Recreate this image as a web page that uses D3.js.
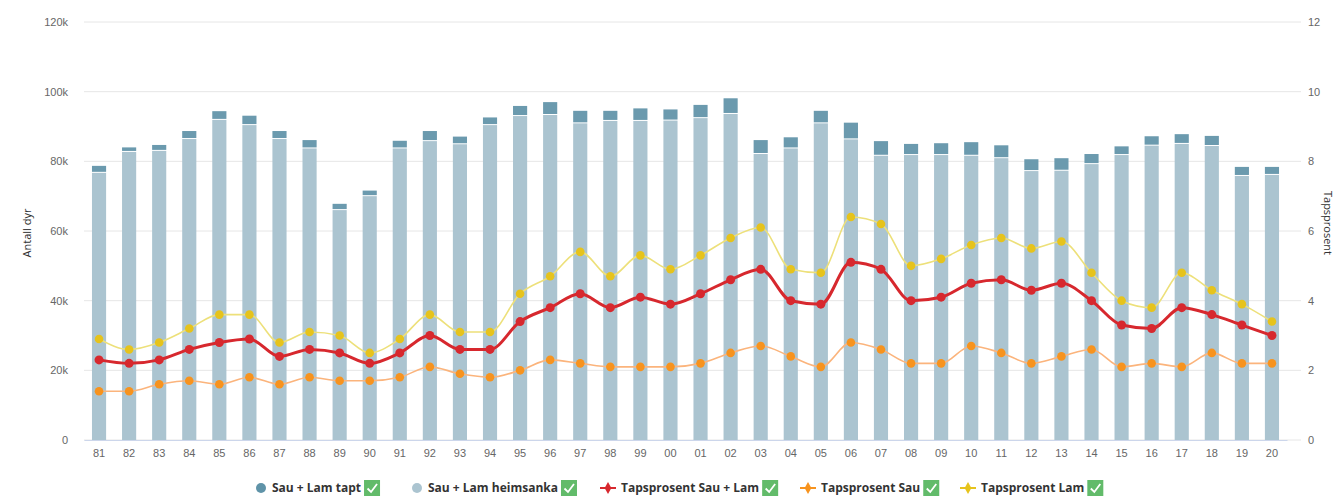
<!DOCTYPE html>
<html>
<head>
<meta charset="utf-8">
<script src="https://cdn.jsdelivr.net/npm/d3@7"></script>
<style>
  body { margin: 0; background: #fff; }
  svg { display: block; font-family: "Open Sans", "DejaVu Sans", sans-serif; }
</style>
</head>
<body>
<div id="chart"></div>
<script>
// --- data ----------------------------------------------------------------
const years = ["81","82","83","84","85","86","87","88","89","90",
               "91","92","93","94","95","96","97","98","99","00",
               "01","02","03","04","05","06","07","08","09","10",
               "11","12","13","14","15","16","17","18","19","20"];

// heimsanka (animals back home) and tapt (lost), in number of animals
const heimsanka = [76700,82700,83000,86400,91900,90400,86400,83700,66000,70000,
                   83700,85800,84900,90400,93000,93300,90900,91600,91600,91700,
                   92400,93600,82100,83700,90900,86300,81600,81800,81800,81600,
                   80900,77200,77300,79200,81800,84500,85000,84400,75800,76100];
const tapt      = [2000,1300,1700,2300,2500,2700,2300,2400,1800,1600,
                   2200,2900,2200,2200,2900,3700,3600,2900,3600,3200,
                   3800,4500,4000,3200,3600,4800,4200,3200,3400,3900,
                   3700,3400,3600,2900,2500,2700,2800,2900,2600,2300];

// percentages
const pctTotal = [2.3,2.2,2.3,2.6,2.8,2.9,2.4,2.6,2.5,2.2,
                  2.5,3.0,2.6,2.6,3.4,3.8,4.2,3.8,4.1,3.9,
                  4.2,4.6,4.9,4.0,3.9,5.1,4.9,4.0,4.1,4.5,
                  4.6,4.3,4.5,4.0,3.3,3.2,3.8,3.6,3.3,3.0];
const pctSau   = [1.4,1.4,1.6,1.7,1.6,1.8,1.6,1.8,1.7,1.7,
                  1.8,2.1,1.9,1.8,2.0,2.3,2.2,2.1,2.1,2.1,
                  2.2,2.5,2.7,2.4,2.1,2.8,2.6,2.2,2.2,2.7,
                  2.5,2.2,2.4,2.6,2.1,2.2,2.1,2.5,2.2,2.2];
const pctLam   = [2.9,2.6,2.8,3.2,3.6,3.6,2.8,3.1,3.0,2.5,
                  2.9,3.6,3.1,3.1,4.2,4.7,5.4,4.7,5.3,4.9,
                  5.3,5.8,6.1,4.9,4.8,6.4,6.2,5.0,5.2,5.6,
                  5.8,5.5,5.7,4.8,4.0,3.8,4.8,4.3,3.9,3.4];

const leftTicks  = [0, 20000, 40000, 60000, 80000, 100000, 120000];
const rightTicks = [0, 2, 4, 6, 8, 10, 12];

// --- layout --------------------------------------------------------------
const width = 1339, height = 497;
const m = { top: 22, right: 52, bottom: 57, left: 84 };
const innerW = width - m.left - m.right;
const innerH = height - m.top - m.bottom;

const svg = d3.select("#chart").append("svg")
    .attr("width", width).attr("height", height);
const plot = svg.append("g").attr("transform", `translate(${m.left},${m.top})`);

const x = d3.scaleBand().domain(years).range([0, innerW]).paddingInner(0.53).paddingOuter(0.265);
const yL = d3.scaleLinear().domain([0, 120000]).range([innerH, 0]);
const yR = d3.scaleLinear().domain([0, 12]).range([innerH, 0]);

const textCol = "#666";

// grid
plot.append("g").selectAll("line").data(leftTicks).join("line")
    .attr("x1", 0).attr("x2", innerW + 14)
    .attr("y1", d => yL(d)).attr("y2", d => yL(d))
    .attr("stroke", "#e6e6e6").attr("stroke-width", 1);

// left axis
const axL = plot.append("g")
    .call(d3.axisLeft(yL).tickValues(leftTicks).tickSize(0).tickPadding(16)
        .tickFormat(d => d === 0 ? "0" : (d / 1000) + "k"));
axL.select(".domain").remove();
axL.selectAll("text").attr("fill", textCol).style("font-size", "11px");

// right axis
const axR = plot.append("g").attr("transform", `translate(${innerW},0)`)
    .call(d3.axisRight(yR).tickValues(rightTicks).tickSize(0).tickPadding(21));
axR.select(".domain").remove();
axR.selectAll("text").attr("fill", textCol).style("font-size", "11px");

// bars (stacked: heimsanka bottom, tapt on top)
const barG = plot.append("g");
barG.selectAll("rect.heim").data(years).join("rect")
    .attr("class", "heim")
    .attr("x", d => x(d)).attr("width", x.bandwidth())
    .attr("y", (d, i) => yL(heimsanka[i]))
    .attr("height", (d, i) => yL(0) - yL(heimsanka[i]))
    .attr("fill", "#abc4d0");
barG.selectAll("rect.tapt").data(years).join("rect")
    .attr("class", "tapt")
    .attr("x", d => x(d)).attr("width", x.bandwidth())
    .attr("y", (d, i) => yL(heimsanka[i] + tapt[i]))
    .attr("height", (d, i) => yL(heimsanka[i]) - yL(heimsanka[i] + tapt[i]) - 1)
    .attr("fill", "#6b9aae");

// x axis
const axX = plot.append("g").attr("transform", `translate(0,${innerH})`)
    .call(d3.axisBottom(x).tickSize(0).tickPadding(9));
axX.select(".domain").attr("stroke", "#ccd6eb");
axX.selectAll("text").attr("fill", textCol).style("font-size", "11px");

// lines
const cx = d => x(d) + x.bandwidth() / 2;
const series = [
  { vals: pctLam,   line: "#ede07a", dot: "#e6c31c", w: 1.6, r: 4.3 },
  { vals: pctSau,   line: "#fbb47c", dot: "#f7931e", w: 1.6, r: 4.3 },
  { vals: pctTotal, line: "#d7282e", dot: "#d7282e", w: 3,   r: 4.5 }
];
series.forEach(s => {
  const line = d3.line()
      .x((d, i) => cx(years[i]))
      .y(d => yR(d))
      .curve(d3.curveMonotoneX);
  plot.append("path").datum(s.vals)
      .attr("d", line).attr("fill", "none")
      .attr("stroke", s.line).attr("stroke-width", s.w);
  plot.append("g").selectAll("circle").data(s.vals).join("circle")
      .attr("cx", (d, i) => cx(years[i])).attr("cy", d => yR(d))
      .attr("r", s.r).attr("fill", s.dot);
});

// axis titles
svg.append("text")
    .attr("transform", `translate(31,${m.top + innerH / 2 + 2}) rotate(-90)`)
    .attr("text-anchor", "middle").attr("fill", "#333").style("font-size", "11px")
    .text("Antall dyr");
svg.append("text")
    .attr("transform", `translate(1324,${m.top + innerH / 2 - 8}) rotate(90)`)
    .attr("text-anchor", "middle").attr("fill", "#333").style("font-size", "11px")
    .text("Tapsprosent");

// legend
const legend = [
  { label: "Sau + Lam tapt",        x: 256, kind: "dot",  col: "#5f93a8" },
  { label: "Sau + Lam heimsanka",   x: 412, kind: "dot",  col: "#abc4d0" },
  { label: "Tapsprosent Sau + Lam", x: 600, kind: "line", col: "#d7282e" },
  { label: "Tapsprosent Sau",       x: 800, kind: "line", col: "#f7931e" },
  { label: "Tapsprosent Lam",       x: 960, kind: "line", col: "#e6c31c" }
];
const lg = svg.append("g").attr("transform", "translate(0,488)");
legend.forEach(it => {
  const g = lg.append("g").attr("transform", `translate(${it.x},0)`);
  let tx;
  if (it.kind === "dot") {
    g.append("circle").attr("cx", 5).attr("cy", 0).attr("r", 5).attr("fill", it.col);
    tx = 16;
  } else {
    g.append("line").attr("x1", 0).attr("x2", 16).attr("y1", 0).attr("y2", 0)
        .attr("stroke", it.col).attr("stroke-width", 2);
    g.append("path").attr("d", d3.symbol(d3.symbolDiamond, 40)())
        .attr("transform", "translate(8,0)").attr("fill", it.col);
    tx = 21;
  }
  const t = g.append("text").attr("x", tx).attr("y", 4)
      .attr("fill", "#333").style("font-size", "12px").style("font-weight", "bold")
      .text(it.label);
  const tw = t.node().getComputedTextLength();
  const bx = tx + tw + 3;
  g.append("rect").attr("x", bx).attr("y", -8).attr("width", 16).attr("height", 16)
      .attr("fill", "#62bb6a");
  g.append("path").attr("d", `M${bx + 3.5},0.5 L${bx + 7},4 L${bx + 13},-4`)
      .attr("fill", "none").attr("stroke", "#fff").attr("stroke-width", 1.8);
});
</script>
</body>
</html>
